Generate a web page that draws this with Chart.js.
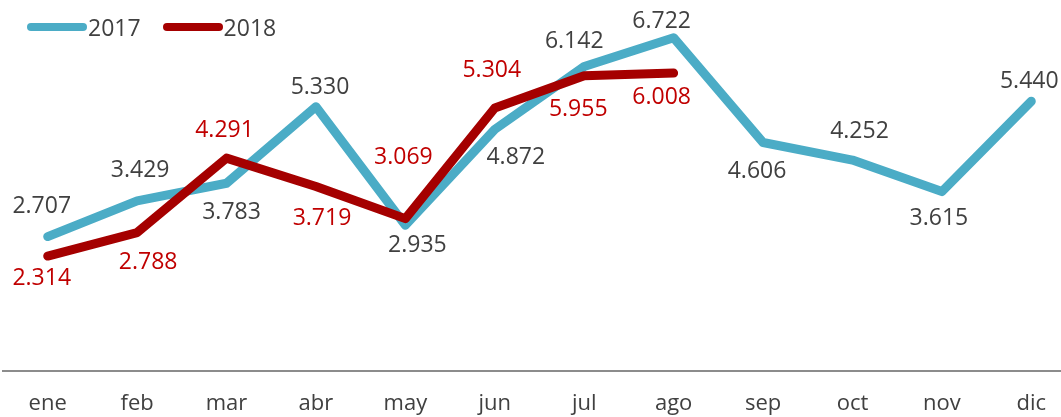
<!DOCTYPE html>
<html>
<head>
<meta charset="utf-8">
<script src="https://cdn.jsdelivr.net/npm/chart.js@4"></script>
<style>
  html, body { margin: 0; padding: 0; background: #fff; overflow: hidden; }
  #wrap { position: relative; width: 1076px; height: 417px; overflow: hidden; }
  #legend { position: absolute; left: 27px; top: 11px; font: 23px "Open Sans", sans-serif; color: #404040; display: flex; align-items: center; }
  .item { display: flex; align-items: center; margin-right: 22px; }
  .swatch { width: 60px; height: 8px; border-radius: 4px; margin-right: 1px; }
</style>
</head>
<body>
<div id="wrap">
  <canvas id="myChart"></canvas>
  <div id="legend"></div>
</div>
<script>
const meses = ['ene', 'feb', 'mar', 'abr', 'may', 'jun', 'jul', 'ago', 'sep', 'oct', 'nov', 'dic'];
const serie2017 = [2707, 3429, 3783, 5330, 2935, 4872, 6142, 6722, 4606, 4252, 3615, 5440];
const serie2018 = [2314, 2788, 4291, 3719, 3069, 5304, 5955, 6008];

// desplazamiento de cada etiqueta respecto a su punto (px)
const dx2017 = [-6, 3, 5, 4, 12, 21, -10, -12, -6, 7, -3, -2];
const dy2017 = [-30, -30, 29, -19, 20, 28, -25, -16, 29, -29, 27, -20];
const dx2018 = [-6, 11, -2, 6, -2, -3, -6, -12];
const dy2018 = [22, 30, -28, 32, -61, -38, 34, 24];

const azul = '#4BACC6';
const rojo = '#A50000';

function formato(v) {
  return String(v).replace(/\B(?=(\d{3})+(?!\d))/g, '.');
}

const etiquetas = {
  id: 'etiquetas',
  afterDatasetsDraw(chart) {
    const ctx = chart.ctx;
    ctx.save();
    ctx.font = '23px "Open Sans", sans-serif';
    ctx.textAlign = 'center';
    ctx.textBaseline = 'middle';
    chart.data.datasets.forEach((ds, i) => {
      const meta = chart.getDatasetMeta(i);
      ctx.fillStyle = ds.labelColor;
      meta.data.forEach((pt, j) => {
        ctx.fillText(formato(ds.data[j]), pt.x + ds.labelDx[j], pt.y + ds.labelDy[j]);
      });
    });
    ctx.restore();
  }
};

const canvas = document.getElementById('myChart');
canvas.width = 1076;
canvas.height = 437;
const ctx = canvas.getContext('2d');

const config = {
  type: 'line',
  data: {
    labels: meses,
    datasets: [
      {
        label: '2017',
        data: serie2017,
        borderColor: azul,
        borderWidth: 9,
        labelColor: '#404040',
        labelDx: dx2017,
        labelDy: dy2017,
        order: 1,
      },
      {
        label: '2018',
        data: serie2018,
        borderColor: rojo,
        borderWidth: 9,
        labelColor: '#C00000',
        labelDx: dx2018,
        labelDy: dy2018,
        order: 0,
      },
    ],
  },
  options: {
    responsive: false,
    animation: false,
    layout: { padding: { top: 24, left: 3, right: 0, bottom: 0 } },
    elements: {
      point: { radius: 0, hoverRadius: 0 },
      line: { tension: 0, borderCapStyle: 'round', borderJoinStyle: 'round' },
    },
    plugins: {
      legend: { display: false },
      tooltip: { enabled: false },
    },
    scales: {
      x: {
        offset: true,
        grid: { display: false, drawTicks: false },
        border: { color: '#8C8C8C', width: 2 },
        ticks: { color: '#404040', padding: 20, font: { family: 'Open Sans', size: 22 } },
      },
      y: {
        display: false,
        min: 0,
        max: 7000,
      },
    },
  },
  plugins: [etiquetas],
};

const myChart = new Chart(ctx, config);

// leyenda en html
const legend = document.getElementById('legend');
config.data.datasets.forEach(ds => {
  const item = document.createElement('div');
  item.className = 'item';
  const sw = document.createElement('span');
  sw.className = 'swatch';
  sw.style.background = ds.borderColor;
  const txt = document.createElement('span');
  txt.textContent = ds.label;
  item.appendChild(sw);
  item.appendChild(txt);
  legend.appendChild(item);
});
</script>
</body>
</html>
